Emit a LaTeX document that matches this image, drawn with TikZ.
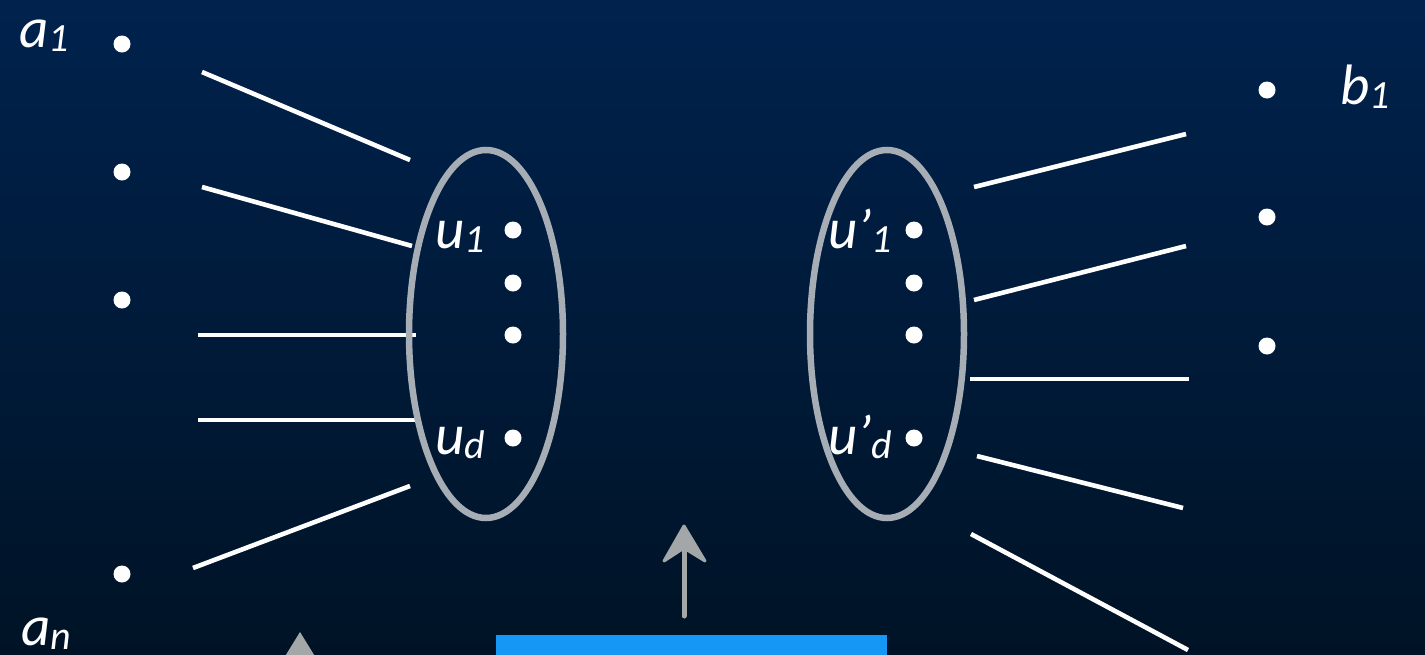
\documentclass[tikz,border=0pt]{standalone}
\usepackage{fontspec}
\setmainfont{Carlito}
\definecolor{bgtop}{HTML}{00224D}
\definecolor{bgbot}{HTML}{001326}
\definecolor{ringgray}{HTML}{A7ADB5}
\definecolor{arrgray}{HTML}{A3A7A7}
\definecolor{barblue}{HTML}{1597F5}
\newcommand{\mylab}[2]{{\fontsize{57}{64}\selectfont\itshape #1}\raisebox{-4pt}{\fontsize{40}{44}\selectfont\itshape #2}}
\tikzset{
  dotnode/.style={circle,fill=white,draw=none,minimum size=17pt,inner sep=0pt},
  wline/.style={draw=white,line width=4.6pt},
  ring/.style={draw=ringgray,line width=6.5pt},
  lbl/.style={text=white,inner sep=0pt,anchor=base west},
}
\begin{document}
\begin{tikzpicture}[x=1pt,y=-1pt]
\useasboundingbox (0,0) rectangle (1425,654);
\shade[top color=bgtop,bottom color=bgbot] (0,0) rectangle (1425,654);
% left dots
\node[dotnode] (a1) at (122,44) {};
\node[dotnode] (a2) at (122,172) {};
\node[dotnode] (a3) at (122,300) {};
\node[dotnode] (an) at (122,574) {};
\node[lbl] (la1) at (19,47) {\mylab{a}{1}};
\node[lbl] (lan) at (21,645) {\mylab{a}{n}};
% left lines
\coordinate (l1s) at (202,72);  \coordinate (l1e) at (410,160);
\coordinate (l2s) at (202,187); \coordinate (l2e) at (412,246);
\coordinate (l3s) at (198,335); \coordinate (l3e) at (416,335);
\coordinate (l4s) at (198,420); \coordinate (l4e) at (416,420);
\coordinate (l5s) at (193,568); \coordinate (l5e) at (410,486);
\draw[wline] (l1s) -- (l1e);
\draw[wline] (l2s) -- (l2e);
\draw[wline] (l3s) -- (l3e);
\draw[wline] (l4s) -- (l4e);
\draw[wline] (l5s) -- (l5e);
% left ellipse
\draw[ring] (486,334) ellipse [x radius=77, y radius=184];
\node[dotnode] (u1) at (513,230) {};
\node[dotnode] (u2) at (513,283) {};
\node[dotnode] (u3) at (513,335) {};
\node[dotnode] (ud) at (513,438) {};
\node[lbl] (lu1) at (435,248) {\mylab{u}{1}};
\node[lbl] (lud) at (435,454) {\mylab{u}{d}};
% right ellipse
\draw[ring] (887,334) ellipse [x radius=77, y radius=184];
\node[dotnode] (v1) at (914,230) {};
\node[dotnode] (v2) at (914,283) {};
\node[dotnode] (v3) at (914,335) {};
\node[dotnode] (vd) at (914,438) {};
\node[lbl] (lv1) at (828,248) {\mylab{u’}{1}};
\node[lbl] (lvd) at (828,454) {\mylab{u’}{d}};
% right lines
\coordinate (r1s) at (974,187); \coordinate (r1e) at (1186,134);
\coordinate (r2s) at (974,300); \coordinate (r2e) at (1186,246);
\coordinate (r3s) at (970,379); \coordinate (r3e) at (1189,379);
\coordinate (r4s) at (977,456); \coordinate (r4e) at (1183,508);
\coordinate (r5s) at (971,534); \coordinate (r5e) at (1188,650);
\draw[wline] (r1s) -- (r1e);
\draw[wline] (r2s) -- (r2e);
\draw[wline] (r3s) -- (r3e);
\draw[wline] (r4s) -- (r4e);
\draw[wline] (r5s) -- (r5e);
% right dots
\node[dotnode] (b1) at (1267,90) {};
\node[dotnode] (b2) at (1267,217) {};
\node[dotnode] (b3) at (1267,346) {};
\node[lbl] (lb1) at (1340,104) {\mylab{b}{1}};
% gray arrow
\coordinate (arrtail) at (684,616);
\coordinate (arrtip) at (684,526);
\draw[arrgray,line width=5pt,line cap=round] (arrtail) -- (684,545);
\fill[arrgray,draw=arrgray,line width=3pt,line join=round] (arrtip) -- (705,561) -- (684,548) -- (664,561) -- cycle;
% partial arrow bottom left
\fill[arrgray] (300,632) -- (316,658) -- (284,658) -- cycle;
% blue bar
\fill[barblue] (496,635) rectangle (887,660);
\end{tikzpicture}
\end{document}
